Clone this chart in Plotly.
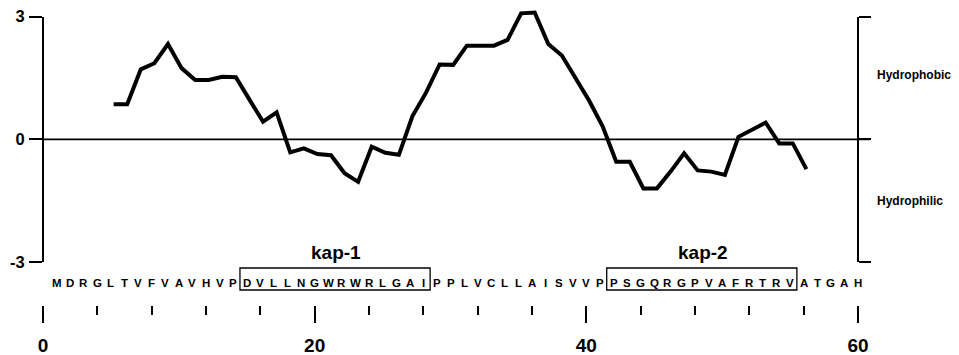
import plotly.graph_objects as go

# ---------------- data ----------------
sequence = list("MDRGLTVFVAVHVPDVLLNGWRWRLGAIPPLVCLLAISVVPPSGQRGPVAFRTRVATGAH")
residue_pos = list(range(1, len(sequence) + 1))

window_centers = list(range(5, 57))
hydropathy = [
    0.86, 0.86, 1.71, 1.86, 2.33, 1.74, 1.45, 1.45, 1.53, 1.52,   # 5-14
    0.97, 0.43, 0.66, -0.32, -0.22, -0.36, -0.39, -0.83, -1.04, -0.18,  # 15-24
    -0.33, -0.38, 0.57, 1.14, 1.83, 1.82, 2.29, 2.29, 2.29, 2.43,  # 25-34
    3.08, 3.10, 2.33, 2.05, 1.50, 0.95, 0.32, -0.55, -0.55, -1.20,  # 35-44
    -1.20, -0.79, -0.34, -0.76, -0.79, -0.87, 0.06, 0.24, 0.41, -0.10,  # 45-54
    -0.10, -0.73,  # 55-56
]

x_major_ticks = [0, 20, 40, 60]
x_minor_ticks = list(range(0, 61, 4))
y_ticks = [-3, 0, 3]
y_tick_text = ["-3", "0", "3"]

motif_names = ["kap-1", "kap-2"]
motif_start = [15, 42]
motif_end = [28, 55]

side_labels = ["Hydrophobic", "Hydrophilic"]
side_label_y = [1.57, -1.51]

# ---------------- layout geometry (screen pixels) ----------------
VW, VH = 959, 355          # browser viewport
OFF = 8                    # default page body margin
W, H = VW - OFF, VH - OFF  # figure size so it fits the viewport
PX0, PX60 = 43.0, 858.0    # screen x of residue 0 and 60
UNIT = (PX60 - PX0) / 60.0
ZERO_Y, YUNIT = 139.3, 40.9  # screen y of hydropathy 0, pixels per unit


def fx(px):                 # screen x -> data x (residue units)
    return (px - PX0) / UNIT


def py(px):                 # screen y -> paper fraction
    return 1 - (px - OFF) / H


def vy(px):                 # screen y -> hydropathy value
    return (ZERO_Y - px) / YUNIT


x_range = [fx(OFF), fx(OFF + W)]
curve_shift = 0.2           # curve drawn slightly right in original
x2_range = [x_range[0] - curve_shift, x_range[1] - curve_shift]

FONT = "Liberation Sans, Arial, sans-serif"

fig = go.Figure()

# hydropathy profile (own full-height subplot so peaks are not clipped)
fig.add_trace(go.Scatter(
    x=window_centers, y=hydropathy, mode="lines",
    line=dict(color="black", width=4),
    xaxis="x2", yaxis="y3", hoverinfo="skip", showlegend=False,
))

# zero reference line, drawn on the right-hand axis
fig.add_trace(go.Scatter(
    x=[0, fx(870)], y=[0, 0], mode="lines",
    line=dict(color="black", width=1.6),
    xaxis="x", yaxis="y2", hoverinfo="skip", showlegend=False,
))

shapes = []
for s, e in zip(motif_start, motif_end):
    shapes.append(dict(type="rect", xref="x", yref="paper",
                       x0=s - 0.5, x1=e + 0.5, y0=py(290), y1=py(268),
                       line=dict(color="black", width=1.3)))

annotations = []
for p, aa in zip(residue_pos, sequence):
    annotations.append(dict(x=p, y=py(282.5), xref="x", yref="paper", text=aa,
                            showarrow=False, xanchor="center", yanchor="middle",
                            font=dict(family=FONT, size=11.5, color="black", weight="bold")))
for name, s, e in zip(motif_names, motif_start, motif_end):
    annotations.append(dict(x=(s + e) / 2 + 0.1, y=py(252), xref="x", yref="paper", text=name,
                            showarrow=False, xanchor="center", yanchor="middle",
                            font=dict(family=FONT, size=19, color="black", weight="bold")))
for lab, yv in zip(side_labels, side_label_y):
    annotations.append(dict(x=fx(875), y=yv, xref="x", yref="y", text=lab,
                            showarrow=False, xanchor="left", yanchor="middle",
                            font=dict(family=FONT, size=12, color="black", weight="bold")))

fig.update_layout(
    width=W, height=H,
    margin=dict(l=0, r=0, t=0, b=0, pad=0, autoexpand=False),
    paper_bgcolor="white", plot_bgcolor="rgba(0,0,0,0)",
    showlegend=False,
    xaxis=dict(
        domain=[0, 1], range=x_range, anchor="free", position=py(305),
        automargin=False, fixedrange=True,
        showgrid=False, zeroline=False, showline=False,
        tickmode="array", tickvals=x_major_ticks,
        ticks="outside", ticklen=17, tickwidth=2.4, tickcolor="black",
        minor=dict(tickmode="array", tickvals=x_minor_ticks, ticks="outside",
                   ticklen=9, tickwidth=1.6, tickcolor="black", showgrid=False),
        tickfont=dict(family=FONT, size=19, color="black", weight="bold"),
        ticklabelstandoff=6, ticklabeloverflow="allow",
    ),
    xaxis2=dict(
        domain=[0, 1], range=x2_range, anchor="y3",
        visible=False, showgrid=False, zeroline=False, automargin=False,
    ),
    yaxis=dict(
        domain=[py(262), py(16.7)], range=[-3, 3], anchor="free", position=(PX0 - OFF) / W,
        automargin=False, fixedrange=True,
        showgrid=False, zeroline=False, showline=True, linecolor="black", linewidth=2.2,
        tickmode="array", tickvals=y_ticks, ticktext=y_tick_text,
        ticks="outside", ticklen=13, tickwidth=2, tickcolor="black",
        tickfont=dict(family=FONT, size=16.5, color="black", weight="bold"),
        ticklabelstandoff=1, ticklabeloverflow="allow",
    ),
    yaxis2=dict(
        domain=[py(262), py(16.7)], range=[-3, 3], overlaying="y", side="right",
        anchor="free", position=(PX60 - OFF) / W, automargin=False,
        showgrid=False, zeroline=False, showline=True, linecolor="black", linewidth=2.2,
        tickmode="array", tickvals=y_ticks, showticklabels=False,
        ticks="outside", ticklen=12, tickwidth=2, tickcolor="black",
    ),
    yaxis3=dict(
        domain=[0, 1], range=[vy(OFF + H), vy(OFF)], anchor="x2",
        visible=False, showgrid=False, zeroline=False, automargin=False,
    ),
    shapes=shapes,
    annotations=annotations,
)

fig.write_html("out.html")
